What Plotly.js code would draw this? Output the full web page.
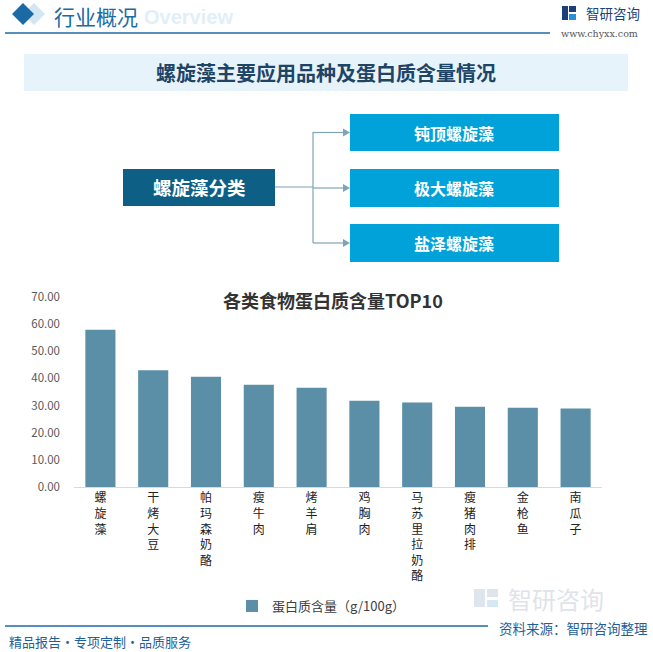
<!DOCTYPE html>
<html>
<head>
<meta charset="utf-8">
<script src="https://cdn.plot.ly/plotly-3.0.1.min.js"></script>
<style>html,body{margin:0;padding:0;background:#fff;}#chart{width:653px;height:652px;}</style>
</head>
<body>
<div id="chart"></div>
<script>
// ---- data ----
var categories = ["螺旋藻","干烤大豆","帕玛森奶酪","瘦牛肉","烤羊肩","鸡胸肉","马苏里拉奶酪","瘦猪肉排","金枪鱼","南瓜子"];
var proteinValues = [57.9, 43.0, 40.6, 37.7, 36.6, 31.8, 31.1, 29.6, 29.2, 28.9];
var seriesName = "蛋白质含量（g/100g）";
var yTickVals = [0, 10, 20, 30, 40, 50, 60, 70];
var varieties = ["钝顶螺旋藻", "极大螺旋藻", "盐泽螺旋藻"];

// ---- layout helpers (pixel -> paper) ----
var W = 653, H = 652, ML = 74, MR = 51, MT = 297, MB = 165;
var PW = W - ML - MR, PH = H - MT - MB;
function px(x) { return (x - ML) / PW; }
function py(y) { return 1 - (y - MT) / PH; }
function rect(x0, y0, x1, y1, color, extra) {
  var s = {type: 'rect', xref: 'paper', yref: 'paper', x0: px(x0), x1: px(x1), y0: py(y1), y1: py(y0),
           fillcolor: color, line: {width: 0}, layer: 'below'};
  if (extra) for (var k in extra) s[k] = extra[k];
  return s;
}
function line(x0, y0, x1, y1, color, w) {
  return {type: 'line', xref: 'paper', yref: 'paper', x0: px(x0), x1: px(x1), y0: py(y0), y1: py(y1),
          line: {color: color, width: w}, layer: 'below'};
}
function pathPx(points, color) {
  var d = points.map(function (p, i) { return (i ? 'L' : 'M') + px(p[0]) + ',' + py(p[1]); }).join(' ') + ' Z';
  return {type: 'path', xref: 'paper', yref: 'paper', path: d, fillcolor: color, line: {width: 0}, layer: 'below'};
}
function text(x, y, t, size, color, opts) {
  var a = {xref: 'paper', yref: 'paper', x: px(x), y: py(y), text: t, showarrow: false,
           font: {size: size, color: color, family: 'Noto Sans CJK SC, sans-serif'},
           xanchor: 'center', yanchor: 'middle'};
  if (opts) for (var k in opts) a[k] = opts[k];
  return a;
}

var FONT = 'Noto Sans CJK SC, sans-serif';
var shapes = [];
var annotations = [];

// header
shapes.push(pathPx([[34,3],[45,14],[34,25],[23,14]], '#d3e6f4'));
shapes.push(pathPx([[23,3],[34,14],[23,25],[12,14]], '#1b6aa5'));
shapes.push(line(5, 33, 550, 33, '#1f6aa6', 1.5));
annotations.push(text(142, 17, 'Overview', 20, '#e2eff8', {xanchor: 'left', font: {size: 20, color: '#e2eff8', family: 'Arial, sans-serif', weight: 'bold'}}));
annotations.push(text(52, 15.5, '行业概况', 21, '#1b6aa5', {xanchor: 'left'}));
// logo
shapes.push(rect(562, 6, 568, 20, '#1d3f7a'));
shapes.push(rect(569, 6, 576, 12, '#1d3f7a'));
shapes.push(rect(569, 14, 576, 20, '#2a8fd6'));
annotations.push(text(584, 13, '智研咨询', 13.5, '#1d3f7a', {xanchor: 'left'}));
annotations.push(text(599, 33, 'www.chyxx.com', 9.5, '#555', {font: {size: 9.5, color: '#555', family: 'DejaVu Serif, serif'}}));

// title box
shapes.push(rect(24, 54, 628, 91, '#e6f3fb'));
annotations.push(text(326, 73, '螺旋藻主要应用品种及蛋白质含量情况', 20, '#1e4466', {font: {size: 20, color: '#1e4466', family: FONT, weight: 'bold'}}));

// diagram
var boxY = [[114, 151], [169, 207], [224, 262]];
shapes.push(rect(123, 169, 275, 206, '#0d5f85'));
annotations.push(text(199, 187, '螺旋藻分类', 18.5, '#ffffff', {font: {size: 18.5, color: '#ffffff', family: FONT, weight: 'bold'}}));
shapes.push(line(275, 187, 313, 187, '#7fa3b7', 1.2));
shapes.push(line(313, 132, 313, 243, '#7fa3b7', 1.2));
varieties.forEach(function (v, i) {
  var yc = (boxY[i][0] + boxY[i][1]) / 2;
  shapes.push(rect(350, boxY[i][0], 559, boxY[i][1], '#00a2d9'));
  shapes.push(line(313, yc, 345, yc, '#7fa3b7', 1.2));
  shapes.push(pathPx([[350, yc], [343, yc - 4], [343, yc + 4]], '#7fa3b7'));
  annotations.push(text(454, yc, v, 16, '#ffffff', {font: {size: 16, color: '#ffffff', family: FONT, weight: 'bold'}}));
});

// chart title
annotations.push(text(333, 300, '各类食物蛋白质含量TOP10', 18, '#333333', {font: {size: 18, color: '#333333', family: FONT, weight: 'bold'}}));

// watermark bottom right
shapes.push(rect(474, 589, 485, 607, '#dfe5ec'));
shapes.push(rect(487, 589, 498, 597, '#dfe5ec'));
shapes.push(rect(487, 600, 498, 607, '#d5e8f5'));
annotations.push(text(506, 598, '智研咨询', 24, '#dfe4ea', {xanchor: 'left'}));

// footer
shapes.push(line(5, 626, 488, 626, '#1f6aa6', 1.5));
annotations.push(text(7, 641, '精品报告・专项定制・品质服务', 13, '#1f5f99', {xanchor: 'left'}));
annotations.push(text(650, 628, '资料来源：智研咨询整理', 13.5, '#1f5f99', {xanchor: 'right'}));

var trace = {
  type: 'bar',
  x: categories,
  y: proteinValues,
  name: seriesName,
  marker: {color: '#5b8fa7'},
  hoverinfo: 'x+y'
};

var layout = {
  width: W, height: H,
  margin: {l: ML, r: MR, t: MT, b: MB},
  paper_bgcolor: '#ffffff',
  plot_bgcolor: 'rgba(0,0,0,0)',
  font: {family: FONT},
  bargap: 0.43,
  showlegend: true,
  legend: {orientation: 'h', x: px(232), y: py(606), xanchor: 'left', yanchor: 'middle',
           font: {size: 13, color: '#404040', family: FONT}, bgcolor: 'rgba(0,0,0,0)'},
  xaxis: {
    type: 'category',
    tickmode: 'array',
    tickvals: categories,
    ticktext: categories.map(function (c) { return c.split('').join('<br>'); }),
    tickangle: 0,
    tickfont: {size: 12, color: '#222222', family: FONT},
    showline: true, linecolor: '#d9d9d9', linewidth: 1,
    showgrid: false, zeroline: false, ticks: ''
  },
  yaxis: {
    range: [0, 70],
    tickmode: 'array',
    tickvals: yTickVals,
    tickformat: '.2f',
    tickfont: {size: 11.5, color: '#595959', family: FONT},
    showgrid: false, zeroline: false, showline: false, ticks: '',
    ticklabelstandoff: 13
  },
  shapes: shapes,
  annotations: annotations
};

Plotly.newPlot('chart', [trace], layout, {displayModeBar: false, staticPlot: true});
</script>
</body>
</html>
